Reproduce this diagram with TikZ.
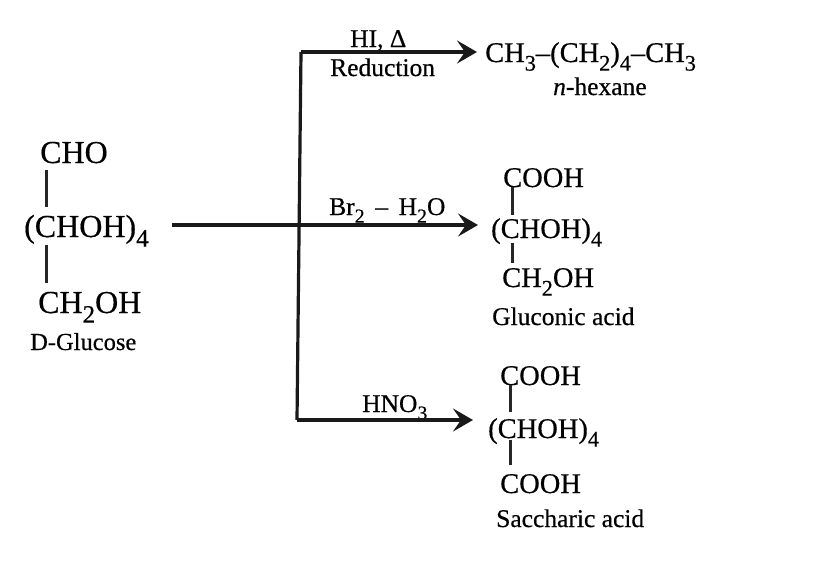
\documentclass[tikz,border=0pt]{standalone}
\usepackage{fontspec}
\setmainfont{Liberation Serif}[FakeBold=0.45]
\usetikzlibrary{arrows.meta}
\newcommand\lowr[1]{\raisebox{-.3em}{\scalebox{.78}{#1}}}
\tikzset{
  big/.style={anchor=base west,inner sep=0pt,text=black,font=\fontsize{32}{32}\selectfont},
  mid/.style={anchor=base west,inner sep=0pt,text=black,font=\fontsize{28.5}{28.5}\selectfont},
  lab/.style={anchor=base west,inner sep=0pt,text=black,font=\fontsize{25.5}{25.5}\selectfont},
  bond/.style={line width=3pt,black!85},
  rail/.style={line width=3.2pt,black!90,line join=round},
  arrowline/.style={rail,-{Stealth[length=20pt,width=23pt,inset=8pt]}}
}
\begin{document}
\begin{tikzpicture}[x=1pt,y=-1pt]
\useasboundingbox[fill=white] (0,0) rectangle (838,584);
% D-glucose
\node[big] (cho) at (40,163) {CHO};
\node[big] (glc) at (24,237) {(CHOH)\lowr{4}};
\node[big] (cho2) at (38,313) {CH\lowr{2}OH};
\node[lab,font=\fontsize{24.5}{24.5}\selectfont] (glcname) at (30,350) {D-Glucose};
\draw[bond] ([shift={(6,7)}]cho.base west) -- ([shift={(22,-30)}]glc.base west);
\draw[bond] ([shift={(22,8)}]glc.base west) -- ([shift={(8,-30)}]cho2.base west);
% products: hexane
\node[mid] (hex) at (485,62) {CH\lowr{3}–(CH\lowr{2})\lowr{4}–CH\lowr{3}};
\node[lab] (hexname) at (553,95) {\textit{n}-hexane};
% gluconic acid
\node[mid] (gA) at (503,187) {COOH};
\node[mid] (gB) at (491,238) {(CHOH)\lowr{4}};
\node[mid] (gC) at (502,287) {CH\lowr{2}OH};
\node[lab] (gname) at (492,325) {Gluconic acid};
\draw[bond] ([shift={(9,0)}]gA.base west) -- ([shift={(21,-23)}]gB.base west);
\draw[bond] ([shift={(21,5)}]gB.base west) -- ([shift={(10,-24)}]gC.base west);
% saccharic acid
\node[mid] (sA) at (500,385) {COOH};
\node[mid] (sB) at (488,438) {(CHOH)\lowr{4}};
\node[mid] (sC) at (500,493) {COOH};
\node[lab] (sname) at (496,527) {Saccharic acid};
\draw[bond] ([shift={(10,0)}]sA.base west) -- ([shift={(22,-26)}]sB.base west);
\draw[bond] ([shift={(22,2)}]sB.base west) -- ([shift={(10,-28)}]sC.base west);
% reagents
\node[lab] (hi) at (350,47) {HI, Δ};
\node[lab] (red) at (330,76) {Reduction};
\node[lab] (br) at (329,215) {Br\lowr{2} \,–\, H\lowr{2}O};
\node[lab] (hno) at (362,412) {HNO\lowr{3}};
% connectors
\coordinate (top) at (301,52);
\coordinate (bot) at (297,420);
\draw[rail] (bot) -- (top);
\draw[arrowline] (top) -- ([shift={(-8,-10)}]hex.base west);
\draw[arrowline] (bot) -- ([shift={(-15,-18)}]sB.base west);
\draw[arrowline] ([shift={(148,-12)}]glc.base west) -- ([shift={(-13,-13)}]gB.base west);
\end{tikzpicture}
\end{document}
